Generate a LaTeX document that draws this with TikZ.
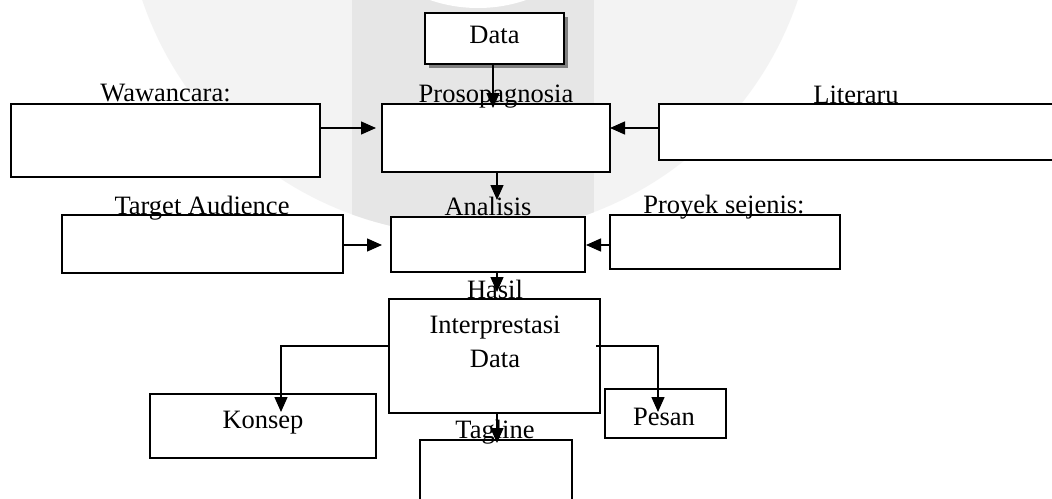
\documentclass[tikz,border=0pt]{standalone}
\usepackage{fontspec}
\setmainfont{Liberation Serif}
\usetikzlibrary{arrows.meta}
\definecolor{wmlight}{HTML}{F3F3F3}
\definecolor{wmdark}{HTML}{E6E6E6}
\definecolor{shadowgrey}{HTML}{808080}
\tikzset{
  box/.style={draw=black, line width=1.8pt, fill=white, inner sep=0pt, outer sep=0pt, anchor=north west},
  lbl/.style={inner sep=0pt, anchor=base, font=\fontsize{26.5}{30}\selectfont},
  arr/.style={line width=1.4pt, -{Triangle[length=15pt,width=13pt]}},
  ln/.style={line width=1.4pt},
}
\begin{document}
\begin{tikzpicture}[x=1pt,y=-1pt]
\clip (0,0) rectangle (1052,498);
\fill[white] (0,0) rectangle (1052,498);
% watermark
\fill[wmlight] (470,-111) circle (346);
\begin{scope}
  \clip (470,-111) circle (346);
  \fill[wmdark] (352,-10) rectangle (594,300);
\end{scope}
\fill[white] (478,-140) circle (148);
% shadow of Data box
\fill[shadowgrey] (429,17) rectangle (568,68);
% boxes
\node[box, minimum width=139pt, minimum height=51pt] (data) at (425,13) {};
\node[box, minimum width=228pt, minimum height=68pt] (pros) at (382,104) {};
\node[box, minimum width=309pt, minimum height=73pt] (waw) at (11,104) {};
\node[box, minimum width=397pt, minimum height=56pt] (lit) at (659,104) {};
\node[box, minimum width=194pt, minimum height=55pt] (ana) at (391,217) {};
\node[box, minimum width=281pt, minimum height=58pt] (tgt) at (62,215) {};
\node[box, minimum width=230pt, minimum height=54pt] (proy) at (610,215) {};
\node[box, minimum width=211pt, minimum height=114pt] (hasil) at (389,299) {};
\node[box, minimum width=226pt, minimum height=64pt] (konsep) at (150,394) {};
\node[box, minimum width=121pt, minimum height=49pt] (pesan) at (605,389) {};
\node[box, minimum width=152pt, minimum height=70pt] (tag) at (420,440) {};
% texts
\node[lbl] (tdata) at (494.5,43) {Data};
\node[lbl] (tpros) at (496,102) {Prosopagnosia};
\node[lbl] (twaw) at (165.5,101) {Wawancara:};
\node[lbl] (tlit) at (856,103) {Literaru};
\node[lbl] (tana) at (488,215) {Analisis};
\node[lbl] (ttgt) at (202,214) {Target Audience};
\node[lbl] (tproy) at (724,213) {Proyek sejenis:};
\node[lbl] (thasil) at (495,298) {Hasil};
\node[lbl] (tinter) at (495,333) {Interprestasi};
\node[lbl] (tdata2) at (495,367) {Data};
\node[lbl] (tkonsep) at (263,428) {Konsep};
\node[lbl] (tpesan) at (664,425) {Pesan};
\node[lbl] (ttag) at (495,438) {Tagline};
% connectors
\coordinate (c1) at (493,108);
\draw[arr] (data.south -| c1) -- (c1);
\coordinate (c2) at (497,200);
\draw[arr] (pros.south -| c2) -- (c2);
\coordinate (c3) at (497,292);
\draw[arr] (ana.south -| c3) -- (c3);
\coordinate (c4) at (497,443);
\draw[arr] (hasil.south -| c4) -- (c4);
\coordinate (c5) at (376,128);
\draw[arr] (waw.east |- c5) -- (c5);
\draw[arr] (lit.west |- c5) -- (pros.east |- c5);
\coordinate (c7) at (382,245);
\draw[arr] (tgt.east |- c7) -- (c7);
\coordinate (c8) at (586,245);
\draw[arr] (proy.west |- c8) -- (c8);
\coordinate (k1) at (281,346);
\coordinate (k2) at (281,412);
\draw[arr] (hasil.west |- k1) -- (k1) -- (k2);
\coordinate (p0) at (596,346);
\coordinate (p1) at (658,346);
\coordinate (p2) at (658,412);
\draw[arr] (p0) -- (p1) -- (p2);
\end{tikzpicture}
\end{document}
